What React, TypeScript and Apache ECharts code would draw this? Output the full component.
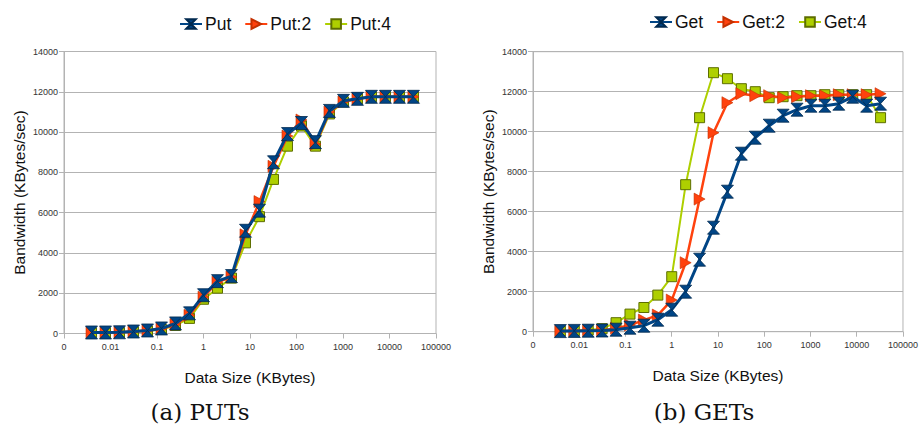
import React, { useEffect, useRef } from "react";
import * as echarts from "echarts";

// Data sizes in KBytes: 4 bytes .. 32 MB (doubling)
const sizesKB = [
  0.00390625, 0.0078125, 0.015625, 0.03125, 0.0625, 0.125, 0.25, 0.5, 1, 2, 4, 8,
  16, 32, 64, 128, 256, 512, 1024, 2048, 4096, 8192, 16384, 32768,
];

const put = [50, 50, 60, 100, 150, 250, 500, 1000, 1900, 2600, 2850, 5100, 6100, 8500, 9900, 10450, 9500, 11050, 11550, 11650, 11750, 11750, 11750, 11750];
const put2 = [50, 50, 60, 100, 150, 230, 450, 900, 1800, 2550, 2800, 4900, 6550, 8300, 9800, 10600, 9400, 11000, 11500, 11650, 11750, 11750, 11750, 11750];
const put4 = [40, 40, 50, 90, 130, 200, 400, 750, 1700, 2250, 2750, 4500, 5800, 7650, 9300, 10300, 9300, 10900, 11500, 11650, 11750, 11750, 11750, 11750];

const get = [30, 40, 50, 60, 100, 200, 300, 600, 1100, 2000, 3600, 5200, 7000, 8900, 9700, 10300, 10800, 11100, 11300, 11300, 11400, 11750, 11300, 11400];
const get2 = [30, 40, 50, 60, 170, 330, 580, 830, 1580, 3450, 6630, 9950, 11450, 11900, 11800, 11800, 11700, 11750, 11800, 11800, 11850, 11850, 11850, 11900];
const get4 = [30, 50, 80, 150, 450, 880, 1210, 1830, 2750, 7350, 10700, 12950, 12650, 12150, 12000, 11700, 11750, 11800, 11800, 11850, 11850, 11850, 11850, 10700];

const putNames = ["Put", "Put:2", "Put:4"];
const getNames = ["Get", "Get:2", "Get:4"];
const yTicks = [0, 2000, 4000, 6000, 8000, 10000, 12000, 14000];

const BLUE = "#004586";
const ORANGE = "#ff420e";
const GREEN = "#aecf00";
const HOURGLASS = "path://M0,0 L10,0 L5,5 L10,10 L0,10 L5,5 Z";
const TRIANGLE = "path://M0,0 L10,5 L0,10 Z";
const SANS = "Liberation Sans";

const pair = (vals: number[]) => sizesKB.map((x, i) => [x, vals[i]]);

function fmtX(v: number) {
  if (v < 0.005) return "0";
  return String(Number(v.toPrecision(6)));
}

function mkSeries(name: string, vals: number[], idx: number, kind: number) {
  const common: any = {
    name,
    type: "line",
    xAxisIndex: idx,
    yAxisIndex: idx,
    data: pair(vals),
    showAllSymbol: true,
  };
  if (kind === 0) {
    return {
      ...common,
      z: 5,
      symbol: HOURGLASS,
      symbolSize: [12, 13],
      lineStyle: { color: BLUE, width: 3 },
      itemStyle: { color: BLUE, borderColor: "#00294f", borderWidth: 0.8 },
    };
  }
  if (kind === 1) {
    return {
      ...common,
      z: 4,
      symbol: TRIANGLE,
      symbolSize: [11, 12],
      lineStyle: { color: ORANGE, width: 2.5 },
      itemStyle: { color: ORANGE, borderColor: "#c43000", borderWidth: 0.6 },
    };
  }
  return {
    ...common,
    z: 3,
    symbol: "rect",
    symbolSize: 10,
    lineStyle: { color: GREEN, width: 2 },
    itemStyle: { color: GREEN, borderColor: "#5d6e00", borderWidth: 1 },
  };
}

function xAxis(gridIndex: number) {
  return {
    type: "log",
    gridIndex,
    logBase: 10,
    min: 0.001,
    max: 100000,
    name: "Data Size (KBytes)",
    nameLocation: "middle",
    nameGap: 36,
    nameTextStyle: { fontFamily: SANS, fontSize: 15.5, color: "#111" },
    axisLine: { show: true, lineStyle: { color: "#b3b3b3", width: 1 } },
    axisTick: { show: true, length: 5, lineStyle: { color: "#b3b3b3" } },
    axisLabel: {
      formatter: fmtX,
      fontFamily: SANS,
      fontSize: 9,
      color: "#333",
      margin: 9,
    },
    splitLine: { show: false },
    minorTick: { show: false },
  };
}

function yAxis(gridIndex: number) {
  return {
    type: "value",
    gridIndex,
    min: 0,
    max: 14000,
    interval: 2000,
    name: "Bandwidth (KBytes/sec)",
    nameLocation: "middle",
    nameGap: 37,
    nameTextStyle: { fontFamily: SANS, fontSize: 15.5, color: "#111" },
    axisLine: { show: true, lineStyle: { color: "#b3b3b3", width: 1 } },
    axisTick: { show: true, length: 5, lineStyle: { color: "#b3b3b3" } },
    axisLabel: {
      formatter: (v: number) => (yTicks.includes(v) ? String(v) : ""),
      fontFamily: SANS,
      fontSize: 9,
      color: "#333",
      margin: 6,
    },
    splitLine: { show: true, lineStyle: { color: "#b3b3b3", width: 1 } },
  };
}

function legend(names: string[], left: number, top: number) {
  return {
    left,
    top,
    data: names,
    itemWidth: 22,
    itemHeight: 12,
    itemGap: 13,
    textStyle: { fontFamily: SANS, fontSize: 17.5, color: "#111", padding: [0, 0, 0, -2] },
    selectedMode: false,
  };
}

export default function App() {
  const ref = useRef<HTMLDivElement>(null);
  useEffect(() => {
    document.body.style.margin = "0";
    if (!ref.current) return;
    const chart = echarts.init(ref.current, undefined, { renderer: "svg" });
    chart.setOption({
      animation: false,
      backgroundColor: "#ffffff",
      grid: [
        { left: 64, top: 51.5, width: 372, height: 282, show: true, borderColor: "#b3b3b3", borderWidth: 1, backgroundColor: "transparent" },
        { left: 533, top: 51.7, width: 374.5, height: 280, show: true, borderColor: "#b3b3b3", borderWidth: 1, backgroundColor: "transparent" },
      ],
      legend: [legend(putNames, 174, 10), legend(getNames, 644, 8)],
      xAxis: [xAxis(0), xAxis(1)],
      yAxis: [yAxis(0), yAxis(1)],
      series: [
        mkSeries(putNames[2], put4, 0, 2),
        mkSeries(putNames[1], put2, 0, 1),
        mkSeries(putNames[0], put, 0, 0),
        mkSeries(getNames[2], get4, 1, 2),
        mkSeries(getNames[1], get2, 1, 1),
        mkSeries(getNames[0], get, 1, 0),
      ],
      graphic: [
        {
          type: "text",
          x: 200,
          y: 412,
          style: { text: "(a) PUTs", font: "23px 'DejaVu Serif'", fill: "#111", align: "center", verticalAlign: "middle" },
        },
        {
          type: "text",
          x: 704,
          y: 412,
          style: { text: "(b) GETs", font: "23px 'DejaVu Serif'", fill: "#111", align: "center", verticalAlign: "middle" },
        },
      ],
    });
    return () => chart.dispose();
  }, []);
  return <div ref={ref} style={{ width: 921, height: 424 }} />;
}
